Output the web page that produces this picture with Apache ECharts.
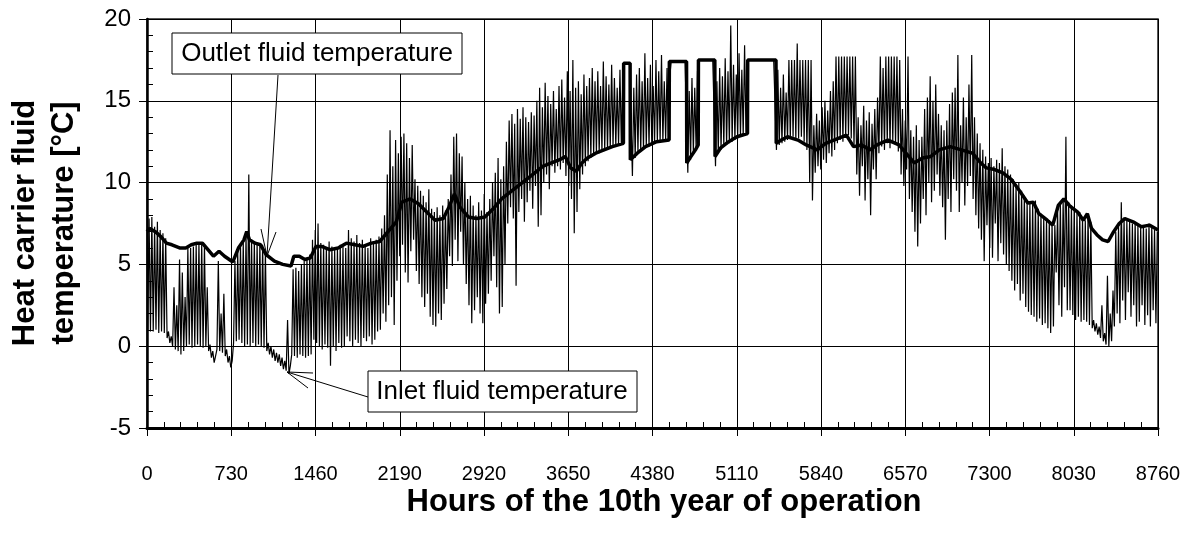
<!DOCTYPE html>
<html>
<head>
<meta charset="utf-8">
<script src="https://cdn.jsdelivr.net/npm/echarts/dist/echarts.min.js"></script>
<style>
  html, body { margin: 0; padding: 0; background: #fff; }
  #container { width: 1197px; height: 544px; }
</style>
</head>
<body>
<div id="container"></div>
<script>
// x axis: hours of the year, ticks every month (730 h)
var hourTicks = [0, 730, 1460, 2190, 2920, 3650, 4380, 5110, 5840, 6570, 7300, 8030, 8760];
var tempTicks = [-5, 0, 5, 10, 15, 20];

// outlet fluid temperature (thick line)
var outletHours = [0,24,72,120,168,216,288,336,384,432,480,528,576,624,672,744,792,840,864,888,
  936,984,1032,1104,1176,1248,1272,1320,1368,1416,1464,1512,1584,1656,1728,1800,1872,1944,2016,2088,
  2160,2208,2280,2352,2424,2496,2568,2616,2664,2712,2784,2856,2928,3000,3072,3144,3216,3288,3360,3432,
  3504,3576,3624,3672,3720,3768,3816,3888,3960,4032,4128,4130,4186,4188,4248,4320,4416,4524,4526,4675,
  4677,4704,4752,4776,4778,4920,4922,4968,5040,5112,5203,5205,5450,5452,5496,5550,5640,5712,5808,5880,
  5952,6060,6122,6192,6264,6324,6420,6516,6576,6648,6720,6792,6864,6960,7056,7152,7224,7272,7344,7416,
  7488,7560,7632,7680,7728,7800,7848,7896,7944,7992,8064,8112,8148,8184,8232,8280,8328,8376,8424,8472,
  8544,8616,8688,8760];
var outletTemps = [7.0,7.2,7.0,6.7,6.3,6.2,6.0,6.0,6.2,6.3,6.3,5.9,5.5,5.8,5.5,5.15,6.0,6.5,7.0,6.5,
  6.3,6.2,5.6,5.2,5.0,4.9,5.5,5.5,5.3,5.4,6.1,6.1,5.9,6.0,6.3,6.2,6.1,6.3,6.4,7.0,
  7.6,8.8,9.0,8.7,8.2,7.7,7.8,8.5,9.3,8.5,7.9,7.8,7.9,8.4,9.0,9.4,9.8,10.2,10.6,11.0,
  11.2,11.4,11.6,10.9,10.7,11.2,11.5,11.8,12.0,12.2,12.4,17.3,17.3,11.4,11.8,12.2,12.5,12.6,17.4,17.4,
  11.2,11.5,12.0,12.3,17.5,17.5,11.6,12.1,12.5,12.8,13.0,17.5,17.5,12.4,12.6,12.8,12.6,12.3,12.0,12.4,
  12.6,12.9,12.2,12.3,12.0,12.3,12.6,12.3,11.8,11.2,11.5,11.6,12.0,12.2,12.0,11.8,11.2,10.9,10.8,10.6,
  10.2,9.5,8.75,8.8,8.1,7.7,7.4,8.6,9.0,8.6,8.2,7.7,8.1,7.2,6.8,6.5,6.4,7.0,7.5,7.8,
  7.6,7.3,7.4,7.1];

// inlet fluid temperature: daily low and daily high, day 0 .. 364
var inletLow = [
  1.0,0.9,0.9,1.0,0.8,0.9,0.8, 0.5,0.2, 0.0,-0.2,-0.3,-0.5,-0.3,
  0.0,0.1,-0.1,0.0,0.1,0.0,-0.1, 0.0, -0.3,-0.7,-1.0, -0.2,-0.3,-0.4, -0.6,-1.0,-1.3,
  0.2,0.3,0.4,0.2,0.0,0.1,0.0,0.2,0.0,0.1,0.0,-0.1,
  -0.3,-0.5,-0.7,-0.9,-1.0,-1.2,-1.4,-1.5,-1.7,
  -0.5,-0.6,-0.7,-0.5,-0.6,-0.7,-0.6,-0.5,
  0.4,0.2,0.0,-0.2,0.1,-0.1,-1.2,0.0,-0.3,0.2,-0.1,0.0,
  0.6,0.3,0.0,0.4,0.2,0.0,0.5,0.3,0.6,0.1,0.4,0.9,
  1.0,2.0,1.5,2.5,3.0,1.3,4.0,
  5.5,6.2,4.5,3.9,5.8,6.5,4.6,3.8,
  3.0,2.4,3.2,1.8,1.3,1.2,2.0,1.6,2.6,3.5,
  5.5,4.9,6.5,5.2,7.0,5.0,3.8,
  2.5,1.4,2.2,3.0,2.0,1.4,2.6,3.2,
  4.0,5.5,3.6,2.0,2.4,5.0,
  7.5,8.5,7.8,3.7,8.2,9.0,7.6,8.8,9.5,8.4,
  9.8,7.3,8.0,10.0,10.5,9.6,11.0,10.6,
  11.0,10.8,11.2,10.4,9.8,9.0,6.9,8.2,9.6,10.5,11.0,11.3,
  11.5,11.7,11.8,11.8,11.9,12.0,12.0,12.1,12.2,12.2,12.3,12.3,
  17.3,17.3,17.3,
  10.4,11.5,11.8,11.9,12.0,12.2,12.2,12.3,12.4,12.5,12.5,12.5,12.6,12.6,
  17.4,17.4,17.4,17.4,17.4,17.4,
  10.6,11.4,11.8,12.0,
  17.5,17.5,17.5,17.5,17.5,17.5,
  11.0,11.8,12.0,12.2,12.3,12.4,12.5,12.6,12.7,12.8,12.9,13.0,
  17.5,17.5,17.5,17.5,17.5,17.5,17.5,17.5,17.5,17.5,
  12.0,12.3,12.4,12.5,
  12.6,12.7,12.8,12.6,12.7,12.8,12.5, 12.0,10.0,
  8.9,10.6,11.0,10.8,11.4,11.2,11.8,11.6,12.0,
  12.4,12.6,12.5,12.8,12.9,12.7,12.2,
  10.5,9.2,11.0,8.9,10.2,8.0,10.8,10.2,
  11.8,12.2,12.0,12.4,12.1,12.5,12.3,11.9,
  10.5,9.8,10.8,9.0,8.2,7.0,6.1,
  7.5,9.0,8.0,10.0,8.8,9.5,10.5,9.2,
  8.5,6.5,9.0,8.2,10.2,9.5,8.2,10.0,8.6,9.8,10.4,9.0,
  8.0,7.2,6.5,5.2,7.4,6.0,5.4,7.5,5.2,6.3,5.6,5.0,
  4.6,4.0,3.4,3.8,2.8,3.2,2.4,2.1,
  1.9,1.8,1.5,1.7,1.3,1.4,1.1,0.8,1.2,
  4.5,2.5,1.8,3.6,2.2,
  2.2,1.9,1.6,1.8,1.5,1.6,1.5,1.3,
  1.1,0.9,0.7,0.5,0.3,0.1,0.0,0.3,
  1.2,2.0,1.4,2.8,1.6,3.3,1.8,2.5,1.2,
  1.5,2.5,1.3,1.9,1.2,2.2,1.4
];
var inletHigh = [
  7.8,7.9,7.3,7.6,7.1,6.9,6.6, 0.9,0.6, 3.6,2.5,5.3,4.5,3.0,
  6.0,6.0,6.1,6.2,6.3,6.3,6.2, 3.6, 0.1,-0.3,-0.6, 5.2,2.0,3.2, -0.2,-0.6,-0.9,
  5.2,5.8,6.2,6.4,6.8,10.5,6.5,6.4,6.3,6.3,6.2,5.8,
  0.2,0.0,-0.2,-0.4,-0.5,-0.7,-0.9,1.6,-1.2,
  4.7,4.8,4.6,5.0,5.2,5.4,5.6,6.5,
  7.1,7.5,6.3,6.2,6.0,6.4,6.1,5.9,6.0,6.2,6.1,6.0,
  7.1,6.6,6.4,6.8,6.3,6.5,6.2,6.0,6.6,6.4,6.5,6.7,
  7.2,8.0,10.5,13.2,11.0,12.6,11.8,
  12.8,13.0,12.4,11.5,12.3,10.2,9.8,9.5,
  9.2,8.8,9.6,8.4,8.2,8.5,8.0,8.6,8.3,9.0,
  10.5,12.8,13.0,11.8,11.6,10.0,9.0,
  9.2,8.6,8.0,8.8,8.3,9.3,8.2,9.0,
  10.0,10.6,11.5,10.2,11.0,12.5,
  13.8,14.2,13.6,14.5,13.9,14.6,14.0,13.7,14.3,14.1,
  15.0,15.8,14.6,16.1,15.3,14.8,15.6,14.5,
  15.9,16.3,15.2,16.8,15.6,17.5,15.8,16.2,15.4,16.6,15.9,16.4,
  17.0,16.2,16.8,15.9,17.4,16.5,16.0,17.2,16.4,15.8,16.9,16.1,
  17.3,17.3,17.3,
  15.8,16.6,17.0,16.2,17.9,16.4,17.2,15.9,17.5,16.8,17.8,16.2,17.0,16.5,
  17.4,17.4,17.4,17.4,17.4,17.4,
  15.6,16.4,15.8,16.8,
  17.5,17.5,17.5,17.5,17.5,17.5,
  16.2,17.0,16.5,17.6,16.8,19.6,17.2,16.6,17.9,16.9,18.4,17.2,
  17.5,17.5,17.5,17.5,17.5,17.5,17.5,17.5,17.5,17.5,
  16.9,15.8,16.6,15.5,
  17.5,17.5,17.5,18.5,17.5,17.5,17.5, 17.5,17.5,
  13.5,14.2,13.8,14.6,15.0,14.4,15.6,16.2,17.7,
  17.7,17.7,17.7,17.7,17.7,17.7,17.7,
  14.0,13.5,14.7,13.8,14.3,13.6,14.5,15.2,
  17.7,17.0,17.7,17.7,17.7,17.7,17.7,17.5,
  14.5,13.8,17.7,13.2,12.8,13.5,12.6,
  12.8,14.5,15.2,16.5,15.0,16.0,14.2,13.5,
  13.2,13.8,14.8,15.5,15.8,17.8,13.5,15.2,14.0,16.0,17.8,14.0,
  13.0,12.4,12.0,11.6,11.2,11.5,11.0,11.4,11.2,12.1,11.0,10.8,
  10.5,10.2,9.9,10.0,9.5,9.2,8.9,8.8,
  8.8,8.9,8.4,8.1,7.9,7.8,7.7,7.5,7.4,
  8.2,8.8,9.0,12.8,8.8,
  8.6,8.5,8.3,8.2,7.9,7.7,8.1,7.6,
  1.6,1.4,1.2,2.5,0.8,4.3,2.0,3.4,
  7.0,7.3,8.8,7.8,7.7,7.6,7.5,7.6,7.4,
  7.3,7.4,7.2,7.5,7.3,7.1,7.0
];

var font = "'Liberation Sans', Arial, sans-serif";

var inletData = [];
for (var d = 0; d < inletLow.length; d++) {
    inletData.push([d * 24 + 6, inletLow[d]]);
    inletData.push([d * 24 + 18, inletHigh[d]]);
}
var outletData = outletHours.map(function (h, i) { return [h, outletTemps[i]]; });

var dom = document.getElementById("container");
var myChart = echarts.init(dom, null, { renderer: 'canvas' });

var option = {
    animation: false,
    backgroundColor: '#fff',
    grid: {
        left: 147, right: 39, top: 19, bottom: 116,
        show: true, borderColor: '#222', borderWidth: 1.5
    },
    xAxis: [
        {
            type: 'value',
            min: hourTicks[0],
            max: hourTicks[hourTicks.length - 1],
            interval: hourTicks[1] - hourTicks[0],
            axisLine: { show: true, onZero: false, lineStyle: { color: '#000', width: 3 } },
            axisTick: { show: true, inside: false, length: 8, lineStyle: { color: '#000', width: 1 } },
            axisLabel: { color: '#000', fontSize: 20, fontFamily: font, margin: 36,
                         formatter: function (v) { return String(v); } },
            splitLine: { show: true, lineStyle: { color: '#000', width: 1 } }
        },
        {
            // minor ticks pointing into the plot
            type: 'value',
            position: 'bottom',
            min: hourTicks[0],
            max: hourTicks[hourTicks.length - 1],
            interval: (hourTicks[1] - hourTicks[0]) / 5,
            axisLine: { show: false, onZero: false },
            axisTick: { show: true, inside: true, length: 6, lineStyle: { color: '#000', width: 1 } },
            axisLabel: { show: false },
            splitLine: { show: false }
        }
    ],
    yAxis: [
        {
            type: 'value',
            min: tempTicks[0],
            max: tempTicks[tempTicks.length - 1],
            interval: 5,
            axisLine: { show: true, onZero: false, lineStyle: { color: '#000', width: 2.5 } },
            axisTick: { show: true, inside: false, length: 8, lineStyle: { color: '#000', width: 1 } },
            axisLabel: { color: '#000', fontSize: 24, fontFamily: font, margin: 16, padding: [8, 0, 0, 0] },
            splitLine: { show: true, lineStyle: { color: '#000', width: 1 } }
        },
        {
            type: 'value',
            position: 'left',
            min: tempTicks[0],
            max: tempTicks[tempTicks.length - 1],
            interval: 1,
            axisLine: { show: false, onZero: false },
            axisTick: { show: true, inside: true, length: 6, lineStyle: { color: '#000', width: 1 } },
            axisLabel: { show: false },
            splitLine: { show: false }
        }
    ],
    series: [
        {
            name: 'Inlet fluid temperature',
            type: 'line',
            data: inletData,
            showSymbol: false,
            symbol: 'none',
            lineStyle: { color: '#000', width: 1.2 },
            z: 2
        },
        {
            name: 'Outlet fluid temperature',
            type: 'line',
            data: outletData,
            showSymbol: false,
            symbol: 'none',
            lineStyle: { color: '#000', width: 3.5 },
            z: 3
        }
    ],
    graphic: [
        // axis titles
        { type: 'text', x: 664, y: 502, z: 100,
          style: { text: 'Hours of the 10th year of operation', font: 'bold 31px ' + font, fill: '#000', align: 'center', verticalAlign: 'middle' } },
        { type: 'text', x: 25, y: 223, rotation: Math.PI / 2, z: 100,
          style: { text: 'Heat carrier fluid', font: 'bold 31px ' + font, fill: '#000', align: 'center', verticalAlign: 'middle' } },
        { type: 'text', x: 64, y: 223, rotation: Math.PI / 2, z: 100,
          style: { text: 'temperature [°C]', font: 'bold 31px ' + font, fill: '#000', align: 'center', verticalAlign: 'middle' } },

        // outlet label and pointer
        { type: 'line', z: 100, shape: { x1: 278, y1: 75, x2: 267, y2: 256 }, style: { stroke: '#000', lineWidth: 1 } },
        { type: 'line', z: 100, shape: { x1: 267, y1: 256, x2: 261, y2: 229 }, style: { stroke: '#000', lineWidth: 1 } },
        { type: 'line', z: 100, shape: { x1: 267, y1: 256, x2: 276, y2: 232 }, style: { stroke: '#000', lineWidth: 1 } },
        { type: 'rect', z: 100, shape: { x: 172, y: 33, width: 290, height: 41 }, style: { fill: '#fff', stroke: '#000', lineWidth: 1 } },
        { type: 'text', x: 317, y: 54, z: 101,
          style: { text: 'Outlet fluid temperature', font: '26px ' + font, fill: '#000', align: 'center', verticalAlign: 'middle' } },

        // inlet label and pointer
        { type: 'line', z: 100, shape: { x1: 368, y1: 397, x2: 287, y2: 372 }, style: { stroke: '#000', lineWidth: 1 } },
        { type: 'line', z: 100, shape: { x1: 287, y1: 372, x2: 313, y2: 373 }, style: { stroke: '#000', lineWidth: 1 } },
        { type: 'line', z: 100, shape: { x1: 287, y1: 372, x2: 308, y2: 388 }, style: { stroke: '#000', lineWidth: 1 } },
        { type: 'rect', z: 100, shape: { x: 368, y: 371, width: 269, height: 41 }, style: { fill: '#fff', stroke: '#000', lineWidth: 1 } },
        { type: 'text', x: 502, y: 392, z: 101,
          style: { text: 'Inlet fluid temperature', font: '26px ' + font, fill: '#000', align: 'center', verticalAlign: 'middle' } }
    ]
};

myChart.setOption(option);
</script>
</body>
</html>
